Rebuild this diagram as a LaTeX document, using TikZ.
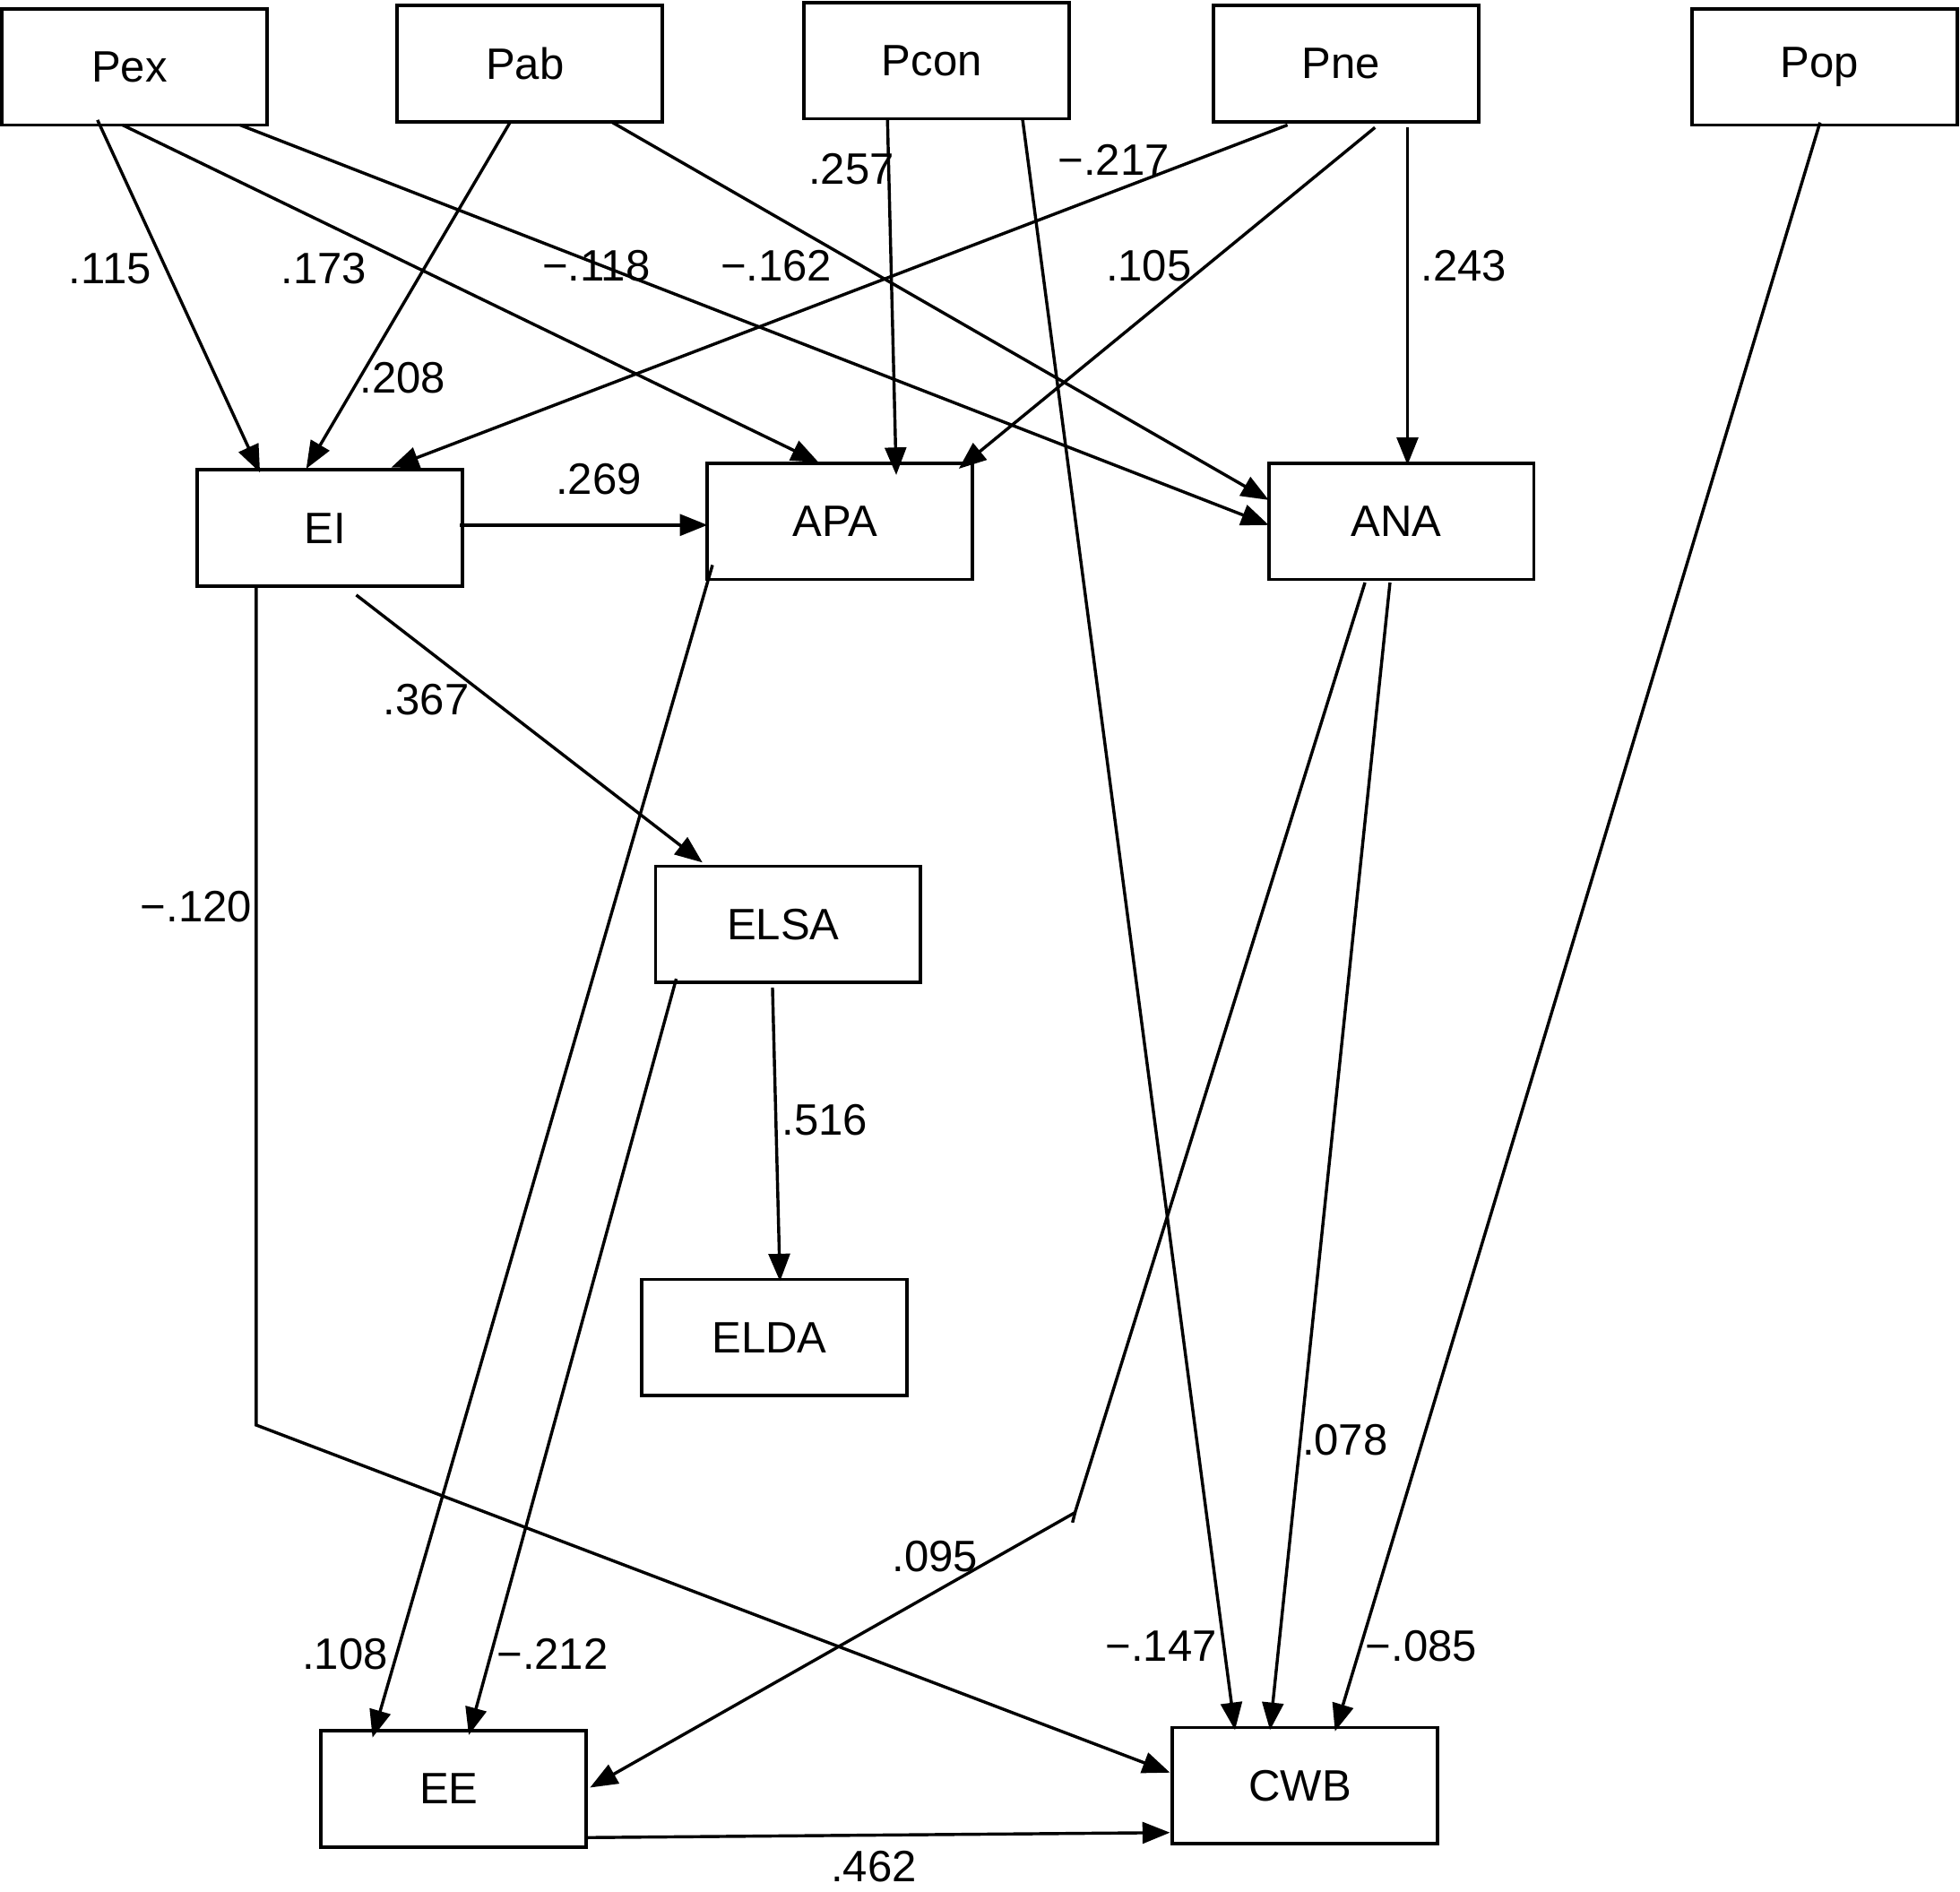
\documentclass[tikz,border=0pt]{standalone}
\usepackage{fontspec}
\setmainfont{Liberation Sans}
\usetikzlibrary{arrows.meta,calc}
\begin{document}
\begin{tikzpicture}[x=0.01cm,y=-0.01cm,
  var/.style={draw,line width=0.8pt,rectangle,minimum width=2.12cm,minimum height=0.93cm,inner sep=0pt,font=\fontsize{10}{11}\selectfont,execute at begin node={\hspace*{-0.08cm}}},
  coef/.style={font=\fontsize{10}{11}\selectfont,inner sep=0pt},
  arr/.style={line width=0.7pt,-{Triangle[length=0.22cm,width=0.17cm]}},
  ln/.style={line width=0.7pt}]
\useasboundingbox (0,0) rectangle (1568,1513);
% nodes
\node[var] (Pex)  at (107.5,53.5) {Pex};
\node[var] (Pab)  at (424,51) {Pab};
\node[var] (Pcon) at (749.5,48.5) {Pcon};
\node[var] (Pne)  at (1077,51) {Pne};
\node[var] (Pop)  at (1459.5,53.5) {Pop};
\node[var] (EI)   at (264,422.5) {EI};
\node[var] (APA)  at (672,417) {APA};
\node[var] (ANA)  at (1121,417) {ANA};
\node[var] (ELSA) at (630.5,739.5) {ELSA};
\node[var] (ELDA) at (619.5,1070) {ELDA};
\node[var] (EE)   at (363,1431) {EE};
\node[var] (CWB)  at (1044,1428.5) {CWB};
% connectors
\draw[arr] ($(Pex)+(-29.5,42.5)$) -- ($(EI)+(-56,-44.5)$);
\draw[arr] ($(Pex)+(-9.5,46.5)$) -- ($(APA)+(-17,-47)$);
\draw[arr] ($(Pex)+(84.5,46.5)$) -- ($(ANA)+(-106,3)$);
\draw[arr] ($(Pab)+(-16,47)$) -- ($(EI)+(-19,-47.5)$);
\draw[arr] ($(Pab)+(66,47)$) -- ($(ANA)+(-106,-17)$);
\draw[arr] ($(Pcon)+(-39.5,47.5)$) -- ($(APA)+(45,-37)$);
\draw[arr] ($(Pcon)+(68.5,46.5)$) -- ($(CWB)+(-56,-44.5)$);
\draw[arr] ($(Pne)+(-47,49)$) -- ($(EI)+(49,-48.5)$);
\draw[arr] ($(Pne)+(23,51)$) -- ($(APA)+(95,-42)$);
\draw[arr] ($(Pne)+(49,51)$) -- ($(ANA)+(5,-45)$);
\draw[arr] ($(Pop)+(-3.5,44.5)$) -- ($(CWB)+(24,-43.5)$);
\draw[arr] ($(EI)+(104,-2.5)$) -- ($(APA)+(-106,3)$);
\draw[arr] ($(EI)+(21,53.5)$) -- ($(ELSA)+(-68.5,-49.5)$);
\draw[arr] ($(EI)+(-59,47.5)$) -- ++(0,670) -- ($(CWB)+(-108,-10.5)$);
\draw[arr] ($(APA)+(-102,35)$) -- ($(EE)+(-65,-41)$);
\draw[arr] ($(ELSA)+(-89.5,43.5)$) -- ($(EE)+(12,-43)$);
\draw[arr] ($(ELSA)+(-12.5,50.5)$) -- ($(ELDA)+(4.5,-45)$);
\draw[arr] ($(ANA)+(-29,49)$) -- ($(EE)+(497,-221)$) -- ($(EE)+(109,-1)$);
\draw[ln] ($(EE)+(497,-221)$) -- ++(-2,8);
\draw[arr] ($(ANA)+(-9,49)$) -- ($(CWB)+(-28,-44.5)$);
\draw[arr] ($(EE)+(107,39)$) -- ($(CWB)+(-108,37.5)$);
% coefficients
\node[coef] (c1)  at (88,215) {.115};
\node[coef] (c2)  at (259,215) {.173};
\node[coef] (c3)  at (477,213) {−.118};
\node[coef] (c4)  at (621,213) {−.162};
\node[coef] (c5)  at (681,135) {.257};
\node[coef] (c6)  at (891,128) {−.217};
\node[coef] (c7)  at (919,213) {.105};
\node[coef] (c8)  at (1171,213) {.243};
\node[coef] (c9)  at (322,302) {.208};
\node[coef] (c10) at (479,383) {.269};
\node[coef] (c11) at (341,560) {.367};
\node[coef] (c12) at (157,725) {−.120};
\node[coef] (c13) at (660,896) {.516};
\node[coef] (c14) at (1076,1152) {.078};
\node[coef] (c15) at (748,1245) {.095};
\node[coef] (c16) at (276,1323) {.108};
\node[coef] (c17) at (442,1323) {−.212};
\node[coef] (c18) at (929,1317) {−.147};
\node[coef] (c19) at (1137,1317) {−.085};
\node[coef] (c20) at (699,1493) {.462};
\end{tikzpicture}
\end{document}
